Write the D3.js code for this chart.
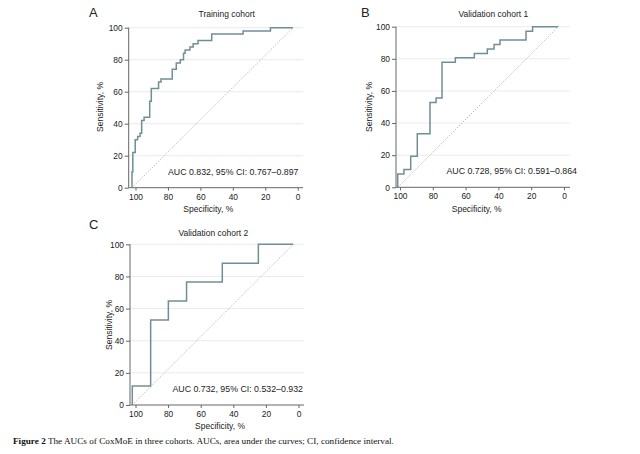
<!DOCTYPE html>
<html>
<head>
<meta charset="utf-8">
<script src="https://cdn.jsdelivr.net/npm/d3@7"></script>
<style>
  html, body { margin: 0; padding: 0; background: #fff; }
  svg { display: block; }
</style>
</head>
<body>
<svg id="chart" width="640" height="454"></svg>
<script>
// ---------- DATA ----------
const panelLetters = ["A", "B", "C"];
const panelTitles = ["Training cohort", "Validation cohort 1", "Validation cohort 2"];
const aucLabels = [
  "AUC 0.832, 95% CI: 0.767\u20130.897",
  "AUC 0.728, 95% CI: 0.591\u20130.864",
  "AUC 0.732, 95% CI: 0.532\u20130.932"
];
const xTicks = [100, 80, 60, 40, 20, 0];
const yTicks = [0, 20, 40, 60, 80, 100];
const xLabel = "Specificity, %";
const yLabel = "Sensitivity, %";
const caption = "The AUCs of CoxMoE in three cohorts. AUCs, area under the curves; CI, confidence interval.";
const captionBold = "Figure 2";

// ROC vertices (specificity %, sensitivity %)
const specA = [100,100,99.5,99.5,98,98,96.5,96.5,95,95,94,94,92.5,92.5,89,89,88,88,83.5,83.5,82,82,75,75,72.5,72.5,70,70,68,68,67,67,64,64,62,62,59,59,50.5,50.5,31,31,14,14,0];
const sensA = [0,10,10,22,22,30,30,32,32,34,34,42,42,44,44,54,54,62,62,66,66,68,68,74,74,78,78,80,80,84,84,86,86,88,88,90,90,92,92,96,96,98,98,100,100];

const specB = [100,100,96.1,96.1,91.9,91.9,87.8,87.8,79.9,79.9,76.1,76.1,72.4,72.4,64.1,64.1,52.3,52.3,44.2,44.2,40,40,36.3,36.3,20.1,20.1,16,16,0];
const sensB = [0,8.3,8.3,11.1,11.1,19.4,19.4,33.3,33.3,52.8,52.8,55.6,55.6,77.8,77.8,80.6,80.6,83.3,83.3,86.1,86.1,88.9,88.9,91.7,91.7,97.2,97.2,100,100];

const specC = [100,100,88.6,88.6,77.6,77.6,66.3,66.3,44.1,44.1,21.7,21.7,0];
const sensC = [0,11.8,11.8,52.9,52.9,64.7,64.7,76.5,76.5,88.2,88.2,100,100];

const rocSpec = [specA, specB, specC];
const rocSens = [sensA, sensB, sensC];

// ---------- LAYOUT ----------
const layouts = [
  { axisX: 128.7, dataX: [132, 293], tickX: [135.5, 297.7], y: [187.7, 27.7], gridEnd: 303, aucEnd: 298.5,
    letter: [89, 17], title: [226.7, 17], yLab: [100, 107], xLab: [208.3, 212] },
  { axisX: 396, dataX: [397.7, 558.3], tickX: [400, 564], y: [187.3, 26.7], gridEnd: 570, aucEnd: 577,
    letter: [361, 17], title: [493.3, 17], yLab: [369.3, 107], xLab: [476.7, 212] },
  { axisX: 130, dataX: [132.3, 293.3], tickX: [135.5, 298.5], y: [405, 244.3], gridEnd: 304, aucEnd: 303,
    letter: [89, 229], title: [213.3, 236], yLab: [109, 325], xLab: [220, 429] }
];

const svg = d3.select("#chart");
const sans = "'Liberation Sans', Arial, Helvetica, sans-serif";
const curveColor = "#6f8f96";
const axisColor = "#666";
const textColor = "#222";

layouts.forEach((L, i) => {
  const x = d3.scaleLinear().domain([100, 0]).range(L.dataX);
  const xt = d3.scaleLinear().domain([100, 0]).range(L.tickX);
  const y = d3.scaleLinear().domain([0, 100]).range(L.y);
  const g = svg.append("g");

  // gridlines
  g.selectAll("line.grid").data(yTicks.filter(d => d > 0)).join("line")
    .attr("x1", L.axisX).attr("x2", L.gridEnd)
    .attr("y1", d => y(d)).attr("y2", d => y(d))
    .attr("stroke", "#ebebeb").attr("stroke-width", 1);

  // diagonal
  g.append("line")
    .attr("x1", x(100)).attr("y1", y(0)).attr("x2", x(0)).attr("y2", y(100))
    .attr("stroke", "#b5b5b5").attr("stroke-width", 0.9)
    .attr("stroke-dasharray", "1.4,1.4");

  // x axis line
  g.append("line")
    .attr("x1", L.axisX).attr("x2", L.gridEnd)
    .attr("y1", y(0)).attr("y2", y(0))
    .attr("stroke", axisColor).attr("stroke-width", 1);
  // x ticks
  const xAxis = d3.axisBottom(xt).tickValues(xTicks).tickSize(3).tickPadding(3).tickFormat(d3.format("d"));
  const gx = g.append("g").attr("transform", `translate(0,${y(0)})`).call(xAxis);
  gx.select(".domain").remove();
  gx.selectAll(".tick line").attr("stroke", axisColor);
  gx.selectAll(".tick text").attr("font-family", sans).attr("font-size", 8.4).attr("fill", textColor);

  // y axis
  const yAxis = d3.axisLeft(y).tickValues(yTicks).tickSize(4).tickPadding(2).tickFormat(d3.format("d"));
  const gy = g.append("g").attr("transform", `translate(${L.axisX},0)`).call(yAxis);
  gy.select(".domain").attr("stroke", axisColor).attr("d", `M0,${y(0)}V${y(100)}`);
  gy.selectAll(".tick line").attr("stroke", axisColor);
  gy.selectAll(".tick text").attr("font-family", sans).attr("font-size", 8.4).attr("fill", textColor);

  // ROC curve
  const pts = rocSpec[i].map((s, k) => [s, rocSens[i][k]]);
  g.append("path").datum(pts)
    .attr("d", d3.line().x(d => x(d[0])).y(d => y(d[1])))
    .attr("fill", "none").attr("stroke", curveColor).attr("stroke-width", 1.5);

  // AUC text
  g.append("text")
    .attr("x", L.aucEnd).attr("y", y(0) - 13)
    .attr("text-anchor", "end")
    .attr("font-family", sans).attr("font-size", 8.8).attr("fill", textColor)
    .text(aucLabels[i]);

  // title
  g.append("text")
    .attr("x", L.title[0]).attr("y", L.title[1])
    .attr("text-anchor", "middle")
    .attr("font-family", sans).attr("font-size", 8.5).attr("fill", textColor)
    .text(panelTitles[i]);

  // letter
  g.append("text")
    .attr("x", L.letter[0]).attr("y", L.letter[1])
    .attr("font-family", sans).attr("font-size", 13).attr("fill", textColor)
    .text(panelLetters[i]);

  // axis labels
  g.append("text")
    .attr("transform", `translate(${L.yLab[0] + 3},${L.yLab[1]}) rotate(-90)`)
    .attr("text-anchor", "middle")
    .attr("font-family", sans).attr("font-size", 8.5).attr("fill", textColor)
    .text(yLabel);
  g.append("text")
    .attr("x", L.xLab[0]).attr("y", L.xLab[1])
    .attr("text-anchor", "middle")
    .attr("font-family", sans).attr("font-size", 8.5).attr("fill", textColor)
    .text(xLabel);
});

// caption
const cap = svg.append("text")
  .attr("x", 13).attr("y", 444)
  .attr("font-family", "'Liberation Serif', 'Times New Roman', serif")
  .attr("font-size", 9.2).attr("fill", "#111");
cap.append("tspan").attr("font-weight", "bold").text(captionBold);
cap.append("tspan").text(" " + caption);
</script>
</body>
</html>
